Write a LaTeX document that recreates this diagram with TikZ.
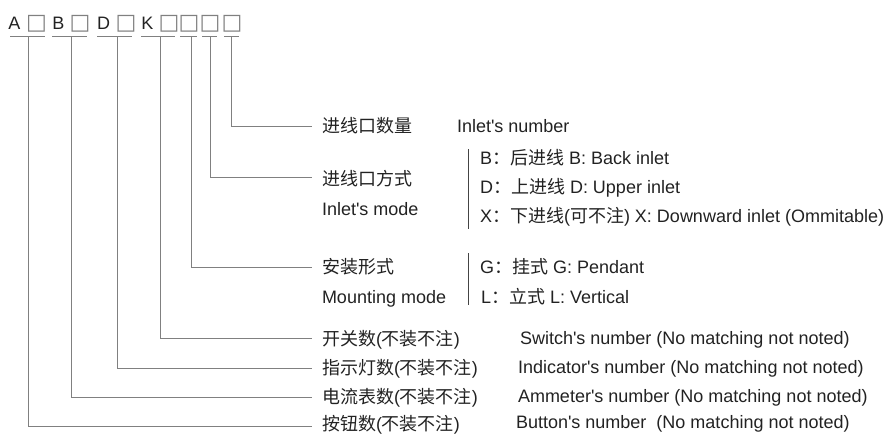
\documentclass[tikz,border=0pt]{standalone}
\usepackage{fontspec}
\setmainfont{Liberation Sans}
\newfontfamily\zh{Noto Sans CJK SC}
\newfontfamily\symf{DejaVu Sans}
\newcommand\ap{\textquotesingle}
\definecolor{txt}{HTML}{222222}
\definecolor{ln}{HTML}{808080}
\definecolor{bar}{HTML}{444444}
\begin{document}
\begin{tikzpicture}[x=1pt,y=-1pt,
  every node/.style={inner sep=0pt,outer sep=0pt,text=txt,font=\fontsize{18}{20}\selectfont},
  lbl/.style={anchor=base west},
  code/.style={anchor=base},
  bx/.style={anchor=base,text=ln,font=\symf\fontsize{22}{24}\selectfont},
  conn/.style={draw=ln,line width=0.9pt},
  uline/.style={draw=ln,line width=1pt},
  sep/.style={draw=bar,line width=0.9pt}]
\useasboundingbox (0,0) rectangle (892,434);
% code row
\node[code] (cA) at (14.5,29) {A};
\node[bx] (b1) at (36.5,29) {□};
\node[code] (cB) at (58.5,29) {B};
\node[bx] (b2) at (80,29) {□};
\node[code] (cD) at (103.5,29) {D};
\node[bx] (b3) at (126,29) {□};
\node[code] (cK) at (147.5,29) {K};
\node[bx] (b4) at (169,29) {□};
\node[bx] (b5) at (189,29) {□};
\node[bx] (b6) at (210,29) {□};
\node[bx] (b7) at (232,29) {□};
% underlines
\draw[uline] (10,36) -- (45,36);
\draw[uline] (52,36) -- (87,36);
\draw[uline] (97,36) -- (132,36);
\draw[uline] (141,36) -- (175,36);
\draw[uline] (180,36) -- (197,36);
\draw[uline] (202,36) -- (217,36);
\draw[uline] (224,36) -- (239,36);
\coordinate (u1) at (28,36);
\coordinate (u2) at (71,36);
\coordinate (u3) at (117,36);
\coordinate (u4) at (160,36);
\coordinate (u5) at (191,36);
\coordinate (u6) at (210,36);
\coordinate (u7) at (231,36);
% line ends
\coordinate (e7) at (312,126);
\coordinate (e6) at (312,177);
\coordinate (e5) at (312,267);
\coordinate (e4) at (312,338);
\coordinate (e3) at (312,368);
\coordinate (e2) at (312,397);
\coordinate (e1) at (312,426);
\draw[conn] (u7) |- (e7);
\draw[conn] (u6) |- (e6);
\draw[conn] (u5) |- (e5);
\draw[conn] (u4) |- (e4);
\draw[conn] (u3) |- (e3);
\draw[conn] (u2) |- (e2);
\draw[conn] (u1) |- (e1);
% labels
\node[lbl] (n7) at (322,132) {\zh 进线口数量};
\node[lbl] (n7e) at (457,132) {Inlet\ap s number};
\node[lbl] (n6) at (322,185) {\zh 进线口方式};
\node[lbl] (n6e) at (322,215) {Inlet\ap s mode};
\coordinate (s1a) at (468,149);
\coordinate (s1b) at (468,229);
\draw[sep] (s1a) -- (s1b);
\node[lbl] (o1) at (480,164) {B{\zh ：后进线} B: Back inlet};
\node[lbl] (o2) at (480,193) {D{\zh ：上进线} D: Upper inlet};
\node[lbl] (o3) at (480,222) {X{\zh ：下进线}({\zh 可不注}) X: Downward inlet (Ommitable)};
\node[lbl] (n5) at (322,273) {\zh 安装形式};
\node[lbl] (n5e) at (322,303) {Mounting mode};
\coordinate (s2a) at (468,253);
\coordinate (s2b) at (468,305);
\draw[sep] (s2a) -- (s2b);
\node[lbl] (m1) at (480,273) {G{\zh ：挂式} G: Pendant};
\node[lbl] (m2) at (481,303) {L{\zh ：立式} L: Vertical};
\node[lbl] (n4) at (322,345) {{\zh 开关数}({\zh 不装不注})};
\node[lbl] (n4e) at (520,344) {Switch\ap s number (No matching not noted)};
\node[lbl] (n3) at (322,374) {{\zh 指示灯数}({\zh 不装不注})};
\node[lbl] (n3e) at (518,373) {Indicator\ap s number (No matching not noted)};
\node[lbl] (n2) at (322,403) {{\zh 电流表数}({\zh 不装不注})};
\node[lbl] (n2e) at (518,402) {Ammeter\ap s number (No matching not noted)};
\node[lbl] (n1) at (322,430) {{\zh 按钮数}({\zh 不装不注})};
\node[lbl] (n1e) at (516,428) {Button\ap s number\ \ (No matching not noted)};
\end{tikzpicture}
\end{document}
